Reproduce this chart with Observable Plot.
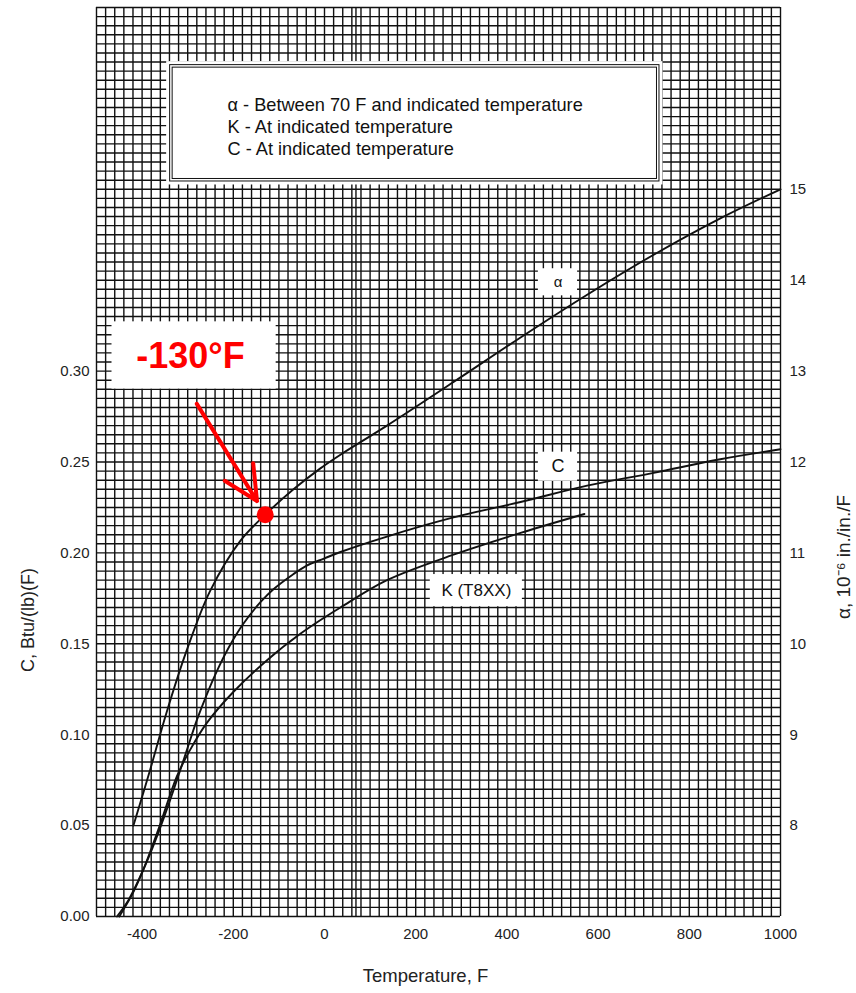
<!DOCTYPE html>
<html><head><meta charset="utf-8">
<script src="https://cdn.jsdelivr.net/npm/d3@7"></script>
<script src="https://cdn.jsdelivr.net/npm/@observablehq/plot@0.6"></script>
<style>body{margin:0;background:#fff;} #chart{width:856px;height:993px;}</style>
</head><body><div id="chart"></div>
<script>
// ---- data ----
const alphaTemp = [-419, -382, -346, -302, -251, -185, -130, -68, -9, 35, 137, 283, 430, 576, 722, 868, 1000];
const alphaVals = [8.0, 8.62, 9.25, 9.93, 10.58, 11.13, 11.42, 11.70, 11.93, 12.08, 12.40, 12.88, 13.37, 13.84, 14.28, 14.68, 15.0];
const cTemp = [-455, -430, -404, -380, -360, -340, -317, -300, -280, -260, -236, -210, -178, -140, -112, -70, -39, 0, 35, 137, 283, 430, 576, 722, 868, 1000];
const cVals = [0, 0.009, 0.022, 0.036, 0.049, 0.063, 0.080, 0.093, 0.108, 0.121, 0.135, 0.148, 0.161, 0.173, 0.180, 0.188, 0.193, 0.197, 0.2005, 0.209, 0.2195, 0.228, 0.237, 0.244, 0.2515, 0.257];
const kTemp = [-450, -420, -397, -360, -324, -295, -258, -200, -126, -53, 0, 35, 137, 283, 430, 570];
const kVals = [0, 0.013, 0.026, 0.051, 0.077, 0.0915, 0.1065, 0.1235, 0.141, 0.1555, 0.1645, 0.170, 0.185, 0.199, 0.211, 0.2214];
const xTicks = [-400, -200, 0, 200, 400, 600, 800, 1000];
const leftTicks = [0, 0.05, 0.10, 0.15, 0.20, 0.25, 0.30];
const rightTicks = [8, 9, 10, 11, 12, 13, 14, 15];
const legendLines = ["α - Between 70 F and indicated temperature", "K - At indicated temperature", "C - At indicated temperature"];
const highlightTemp = -130, highlightAlpha = 11.42, highlightLabel = "-130°F";
const xGridStep = 20, yGridStep = 0.005;
const extraGridX = [69];
// annotation boxes (data units)
const legendBox = [{x1: -338.5, x2: 734.6, y1: 0.4043, y2: 0.4683}];
const curveLabels = [
  {label: "α", x: 512, y: 0.349, x1: 469, x2: 555, y1: 0.3414, y2: 0.3563, size: 15, weight: "bold"},
  {label: "C", x: 512, y: 0.2475, x1: 469, x2: 555, y1: 0.2394, y2: 0.2554, size: 18, weight: "normal"},
  {label: "K (T8XX)", x: 333, y: 0.1793, x1: 232, x2: 434, y1: 0.1704, y2: 0.1881, size: 17, weight: "normal"}
];
const calloutBox = [{x: -294, y: 0.3083, x1: -466, x2: -106, y1: 0.2901, y2: 0.3271}];
const arrowData = [{x1: -280, y1: 0.282, x2: -148, y2: 0.2285}];

// alpha shares the left scale: left = (alpha - 7) / 20
const toLeft = a => (a - 7) / 20;
const lines = [
  ...alphaTemp.map((t, i) => ({s: "alpha", T: t, v: toLeft(alphaVals[i])})),
  ...cTemp.map((t, i) => ({s: "C", T: t, v: cVals[i]})),
  ...kTemp.map((t, i) => ({s: "K", T: t, v: kVals[i]}))
];
const gridX = d3.range(-500, 1000 + 1e-9, xGridStep).concat(extraGridX);
const gridY = d3.range(0, 0.5 + 1e-9, yGridStep);
const font = "'Liberation Sans', Arial, Helvetica, sans-serif";

const chart = Plot.plot({
  width: 856, height: 993,
  marginLeft: 96, marginRight: 76, marginTop: 7, marginBottom: 77,
  x: {domain: [-500, 1000]},
  y: {domain: [0, 0.5]},
  style: {fontFamily: font, fontSize: "15px", color: "#222", background: "#fff"},
  marks: [
    Plot.ruleX(gridX, {stroke: "#111", strokeWidth: 1.4}),
    Plot.ruleY(gridY, {stroke: "#111", strokeWidth: 1.4}),
    Plot.line(lines, {x: "T", y: "v", z: "s", stroke: "#111", strokeWidth: 1.9, curve: "catmull-rom"}),
    // legend box
    Plot.rect(legendBox, {x1: "x1", x2: "x2", y1: "y1", y2: "y2", fill: "white", inset: -3.5}),
    Plot.rect(legendBox, {x1: "x1", x2: "x2", y1: "y1", y2: "y2", fill: "none", stroke: "#111", strokeWidth: 1}),
    Plot.rect(legendBox, {x1: "x1", x2: "x2", y1: "y1", y2: "y2", fill: "none", stroke: "#111", strokeWidth: 1, inset: 2.5}),
    Plot.text([legendLines.join("\n")], {text: d => d, frameAnchor: "top-left", dx: 131, dy: 118.5, textAnchor: "start", lineAnchor: "middle", lineHeight: 1.19, fontSize: 18.2, fill: "#111"}),
    // curve labels
    Plot.rect(curveLabels, {x1: "x1", x2: "x2", y1: "y1", y2: "y2", fill: "white"}),
    Plot.text(curveLabels, {x: "x", y: "y", text: "label", fontSize: d => d.size, fontWeight: d => d.weight, fill: "#111"}),
    // callout
    Plot.rect(calloutBox, {x1: "x1", x2: "x2", y1: "y1", y2: "y2", fill: "white"}),
    Plot.text(calloutBox, {x: "x", y: "y", text: () => highlightLabel, fontSize: 36, fontWeight: "bold", fill: "#ff0000"}),
    Plot.arrow(arrowData, {x1: "x1", y1: "y1", x2: "x2", y2: "y2", stroke: "#ff0000", strokeWidth: 4, headLength: 20, headAngle: 52}),
    Plot.dot([{T: highlightTemp, v: toLeft(highlightAlpha)}], {x: "T", y: "v", r: 8.5, fill: "#ff0000"}),
    // axes
    Plot.axisX(xTicks, {tickSize: 0, tickPadding: 12, tickFormat: d => String(d), label: null}),
    Plot.axisY(leftTicks, {tickSize: 0, tickPadding: 7, tickFormat: d3.format(".2f"), label: null}),
    Plot.axisY(rightTicks.map(toLeft), {anchor: "right", tickSize: 0, tickPadding: 9, tickFormat: v => String(Math.round(v * 20 + 7)), label: null}),
    Plot.text(["C, Btu/(lb)(F)"], {text: d => d, frameAnchor: "left", dx: -68, dy: 158, rotate: -90, textAnchor: "middle", fontSize: 18, fill: "#222"}),
    Plot.text(["α, 10⁻⁶ in./in./F"], {text: d => d, frameAnchor: "right", dx: 63, dy: 95, rotate: -90, textAnchor: "middle", fontSize: 19, fill: "#222"}),
    Plot.text(["Temperature, F"], {text: d => d, frameAnchor: "bottom", dx: -13, dy: 65, textAnchor: "middle", fontSize: 18.5, fill: "#222"})
  ]
});
document.getElementById("chart").appendChild(chart);
</script>
</body></html>
